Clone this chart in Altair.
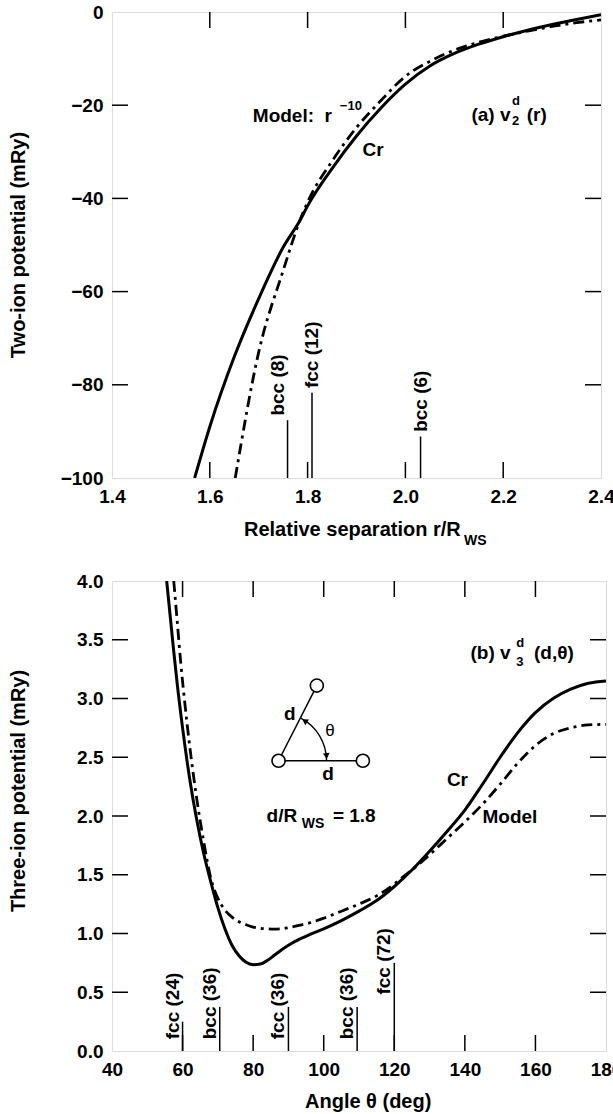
import altair as alt
import pandas as pd

FONT = "Liberation Sans"
LBL = 19
SUB = 13
TICK = 16

# ---------------- panel (a): two-ion potential ----------------
cr2_r = [1.569, 1.60, 1.65, 1.70, 1.75, 1.784, 1.80, 1.85, 1.90, 1.95, 2.00, 2.05, 2.10, 2.15, 2.20, 2.25, 2.30, 2.35, 2.40]
cr2_v = [-100, -89, -74, -61.5, -50.5, -44.8, -41.6, -33.6, -26.6, -20.6, -15.5, -11.6, -8.9, -6.9, -5.3, -3.9, -2.7, -1.6, -0.6]
model2_r = [1.652, 1.70, 1.75, 1.784, 1.80, 1.85, 1.90, 1.95, 2.00, 2.05, 2.10, 2.15, 2.20, 2.25, 2.30, 2.35, 2.40]
model2_v = [-100, -73, -55.5, -44.8, -40.8, -32.0, -24.8, -19.0, -13.8, -10.6, -8.2, -6.5, -5.2, -4.1, -3.1, -2.3, -1.7]
sites2_r = [1.759, 1.809, 2.031]
sites2_h = [12.4, 18.3, 8.9]
sites2_lbl = ["bcc (8)", "fcc (12)", "bcc (6)"]
xa_ticks = [1.4, 1.6, 1.8, 2.0, 2.2, 2.4]
ya_ticks = [-100, -80, -60, -40, -20, 0]

# ---------------- panel (b): three-ion potential ----------------
cr3_t = [55.5, 56.5, 57.5, 58.5, 60, 62, 64, 66, 68, 70, 72, 74, 76, 78, 80, 82, 84, 86, 88, 90, 93, 96,
         100, 105, 110, 115, 120, 125, 130, 135, 140, 145, 150, 155, 160, 165, 170, 175, 180]
cr3_v = [4.0, 3.7, 3.4, 3.12, 2.75, 2.32, 1.97, 1.68, 1.44, 1.22, 1.04, 0.90, 0.81, 0.755, 0.735, 0.74, 0.77, 0.815, 0.86, 0.90, 0.95, 0.99,
         1.04, 1.11, 1.19, 1.28, 1.40, 1.54, 1.70, 1.87, 2.05, 2.27, 2.50, 2.71, 2.88, 3.00, 3.08, 3.13, 3.15]
model3_t = [57.5, 58.5, 59.5, 60.5, 62, 64, 66, 68, 70, 72, 74, 76, 78, 80, 82, 84, 86, 88, 90, 93, 96,
            100, 105, 110, 115, 120, 122, 125, 130, 135, 140, 145, 150, 155, 160, 165, 170, 175, 180]
model3_v = [4.0, 3.65, 3.3, 3.0, 2.6, 2.15, 1.78, 1.47, 1.30, 1.20, 1.14, 1.10, 1.075, 1.055, 1.045, 1.04, 1.037, 1.04, 1.05, 1.07, 1.09,
            1.13, 1.19, 1.25, 1.32, 1.42, 1.47, 1.54, 1.67, 1.81, 1.95, 2.10, 2.27, 2.45, 2.60, 2.70, 2.75, 2.775, 2.78]
sites3_t = [60.0, 70.53, 90.0, 109.47, 120.0]
sites3_h = [0.25, 0.375, 0.375, 0.375, 0.75]
sites3_lbl = ["fcc (24)", "bcc (36)", "fcc (36)", "bcc (36)", "fcc (72)"]
sites3_lbl_start = [0.10, 0.10, 0.10, 0.10, 0.48]
xb_ticks = [40, 60, 80, 100, 120, 140, 160, 180]
yb_ticks = [0.0, 0.5, 1.0, 1.5, 2.0, 2.5, 3.0, 3.5, 4.0]

# inset triangle of panel (b): three ions, angle arc and arrow heads
ion_t = [87.2, 111.1, 98.05]
ion_v = [2.47, 2.47, 3.11]
arrow_t = [94.6, 100.8]
arrow_v = [2.81, 2.51]
arrow_ang = [303, 174]

W_A, H_A = 489, 466
W_B, H_B = 494, 470


def ax(orient, values, fmt):
    return alt.Axis(orient=orient, values=values, format=fmt, title=None, grid=False, domain=False,
                    ticks=False, labelPadding=9, labelFlush=False, labelOverlap=False,
                    labelFont=FONT, labelFontSize=LBL, labelFontWeight="bold", labelColor="black")


def inner_ticks(xt, yt, xs, ys, W, H):
    """Inward tick marks on all four sides, drawn from the tick value lists."""
    dx = pd.DataFrame({"v": xt[1:-1]})
    dy = pd.DataFrame({"v": yt[1:-1]})
    base_x = alt.Chart(dx).mark_rule(color="black", strokeWidth=1.5)
    base_y = alt.Chart(dy).mark_rule(color="black", strokeWidth=1.5)
    X = alt.X("v:Q", scale=xs, axis=None)
    Y = alt.Y("v:Q", scale=ys, axis=None)
    return [
        base_x.encode(x=X, y=alt.value(H), y2=alt.value(H - TICK)),
        base_x.encode(x=X, y=alt.value(0), y2=alt.value(TICK)),
        base_y.encode(y=Y, x=alt.value(0), x2=alt.value(TICK)),
        base_y.encode(y=Y, x=alt.value(W - TICK), x2=alt.value(W)),
    ]


def text_data(rows, xs, ys, size=LBL, weight="bold", align="left", baseline="middle", angle=0):
    df = pd.DataFrame(rows, columns=["t", "x", "y"])
    return alt.Chart(df).mark_text(font=FONT, fontSize=size, fontWeight=weight, align=align,
                                   baseline=baseline, angle=angle, color="black").encode(
        x=alt.X("x:Q", scale=xs, axis=None), y=alt.Y("y:Q", scale=ys, axis=None), text="t:N")


def text_px(s, px, py, size=20, align="left", angle=0):
    return alt.Chart(pd.DataFrame({"t": [s]})).mark_text(
        font=FONT, fontSize=size, fontWeight="bold", align=align, baseline="middle",
        angle=angle, color="black").encode(x=alt.value(px), y=alt.value(py), text="t:N")


# ---------------- build panel (a) ----------------
xa = alt.Scale(domain=[1.4, 2.4], nice=False, zero=False)
ya = alt.Scale(domain=[-100, 0], nice=False, zero=False)

cr2 = pd.DataFrame({"r": cr2_r, "v": cr2_v})
md2 = pd.DataFrame({"r": model2_r, "v": model2_v})
st2 = pd.DataFrame({"r": sites2_r, "base": [-100] * 3,
                    "top": [-100 + h for h in sites2_h], "lbl": sites2_lbl})
st2["ly"] = st2["top"] + 1.0

a_cr = alt.Chart(cr2).mark_line(color="black", strokeWidth=3, clip=True, interpolate="monotone").encode(
    x=alt.X("r:Q", scale=xa, axis=ax("bottom", xa_ticks, ".1f")),
    y=alt.Y("v:Q", scale=ya, axis=ax("left", ya_ticks, "d")))
a_md = alt.Chart(md2).mark_line(color="black", strokeWidth=2.8, strokeDash=[11, 5, 3, 5], clip=True,
                                interpolate="monotone").encode(
    x=alt.X("r:Q", scale=xa, axis=None), y=alt.Y("v:Q", scale=ya, axis=None))
a_rule = alt.Chart(st2).mark_rule(color="black", strokeWidth=1.5).encode(
    x=alt.X("r:Q", scale=xa, axis=None), y=alt.Y("base:Q", scale=ya, axis=None), y2="top:Q")
a_lbl1 = alt.Chart(st2.iloc[[0]]).mark_text(font=FONT, fontSize=LBL, fontWeight="bold", angle=270,
                                             align="left", baseline="bottom", color="black").encode(
    x=alt.X("r:Q", scale=xa, axis=None), y=alt.Y("ly:Q", scale=ya, axis=None), text="lbl:N")
a_lbl2 = alt.Chart(st2.iloc[[1, 2]]).mark_text(font=FONT, fontSize=LBL, fontWeight="bold", angle=270,
                                                align="left", baseline="middle", color="black").encode(
    x=alt.X("r:Q", scale=xa, axis=None), y=alt.Y("ly:Q", scale=ya, axis=None), text="lbl:N")
a_txt = text_data([("Model:\u00a0\u00a0r", 1.688, -22.3), ("(a) v", 2.135, -22.2), ("(r)", 2.248, -22.2)], xa, ya)
a_sub = text_data([("\u221210", 1.866, -20.2), ("d", 2.218, -19.0), ("2", 2.218, -23.4)], xa, ya, size=SUB)
a_cr_lbl = text_data([("Cr", 1.934, -29.6)], xa, ya, align="center")
a_ytitle = text_px("Two-ion potential (mRy)", -93, H_A / 2, angle=270, align="center")
a_xtitle = text_px("Relative separation r/R", 132, H_A + 52)
a_xsub = text_px("WS", 352, H_A + 63, size=14)

panel_a = alt.layer(a_cr, a_md, a_rule, *inner_ticks(xa_ticks, ya_ticks, xa, ya, W_A, H_A),
                    a_lbl1, a_lbl2, a_txt, a_sub, a_cr_lbl,
                    a_ytitle, a_xtitle, a_xsub).resolve_axis(
    x="independent", y="independent").properties(width=W_A, height=H_A)

# ---------------- build panel (b) ----------------
xb = alt.Scale(domain=[40, 180], nice=False, zero=False)
yb = alt.Scale(domain=[0, 4], nice=False, zero=False)

cr3 = pd.DataFrame({"t": cr3_t, "v": cr3_v})
md3 = pd.DataFrame({"t": model3_t, "v": model3_v})
st3 = pd.DataFrame({"t": sites3_t, "base": [0.0] * 5, "top": sites3_h, "lbl": sites3_lbl,
                    "ly": sites3_lbl_start})

b_cr = alt.Chart(cr3).mark_line(color="black", strokeWidth=3, clip=True, interpolate="monotone").encode(
    x=alt.X("t:Q", scale=xb, axis=ax("bottom", xb_ticks, "d")),
    y=alt.Y("v:Q", scale=yb, axis=ax("left", yb_ticks, ".1f")))
b_md = alt.Chart(md3).mark_line(color="black", strokeWidth=2.8, strokeDash=[11, 5, 3, 5], clip=True,
                                interpolate="monotone").encode(
    x=alt.X("t:Q", scale=xb, axis=None), y=alt.Y("v:Q", scale=yb, axis=None))
b_rule = alt.Chart(st3).mark_rule(color="black", strokeWidth=1.5).encode(
    x=alt.X("t:Q", scale=xb, axis=None), y=alt.Y("base:Q", scale=yb, axis=None), y2="top:Q")
b_lbl = alt.Chart(st3).mark_text(font=FONT, fontSize=LBL, fontWeight="bold", angle=270,
                                 align="left", baseline="bottom", color="black").encode(
    x=alt.X("t:Q", scale=xb, axis=None), y=alt.Y("ly:Q", scale=yb, axis=None), text="lbl:N")

ions = pd.DataFrame({"t": ion_t, "v": ion_v})
bonds = pd.DataFrame({"t": [ion_t[0], ion_t[0]], "v": [ion_v[0], ion_v[0]],
                      "t2": [ion_t[2], ion_t[1]], "v2": [ion_v[2], ion_v[1]]})
b_bonds = alt.Chart(bonds).mark_rule(color="black", strokeWidth=1.5).encode(
    x=alt.X("t:Q", scale=xb, axis=None), y=alt.Y("v:Q", scale=yb, axis=None), x2="t2:Q", y2="v2:Q")
b_ions = alt.Chart(ions).mark_point(shape="circle", size=170, filled=True, fill="white",
                                     stroke="black", strokeWidth=1.6, opacity=1).encode(
    x=alt.X("t:Q", scale=xb, axis=None), y=alt.Y("v:Q", scale=yb, axis=None))
b_arc = alt.Chart(ions.iloc[[0]]).mark_arc(radius=48.7, radius2=47.3, theta=0.47, theta2=1.5708,
                                           color="black").encode(
    x=alt.X("t:Q", scale=xb, axis=None), y=alt.Y("v:Q", scale=yb, axis=None))
arrows = pd.DataFrame({"t": arrow_t, "v": arrow_v, "a": arrow_ang})
b_arrows = alt.Chart(arrows).mark_point(shape="triangle-up", size=45, filled=True, color="black",
                                         opacity=1).encode(
    x=alt.X("t:Q", scale=xb, axis=None), y=alt.Y("v:Q", scale=yb, axis=None),
    angle=alt.Angle("a:Q", scale=None))

b_txt = text_data([("(b) v", 141.6, 3.39), ("(d,\u03b8)", 159.6, 3.39), ("Model", 145.0, 1.99),
                   ("d/R", 83.8, 2.0), ("= 1.8", 102.6, 2.0)], xb, yb)
b_sub = text_data([("d", 154.6, 3.47), ("3", 154.6, 3.31)], xb, yb, size=SUB)
b_ws = text_data([("WS", 93.8, 1.93)], xb, yb, size=14)
b_ctr = text_data([("Cr", 137.9, 2.31), ("d", 90.4, 2.87), ("d", 101.2, 2.36)], xb, yb, align="center")
b_theta = text_data([("\u03b8", 101.8, 2.72)], xb, yb, size=17, weight="normal", align="center")
b_ytitle = text_px("Three-ion potential (mRy)", -93, 210, angle=270, align="center")
b_xtitle = text_px("Angle  \u03b8 (deg)", 193, H_B + 51)

panel_b = alt.layer(b_cr, b_md, b_rule, *inner_ticks(xb_ticks, yb_ticks, xb, yb, W_B, H_B),
                    b_lbl, b_bonds, b_arc, b_arrows, b_ions,
                    b_txt, b_sub, b_ws, b_ctr, b_theta, b_ytitle, b_xtitle).resolve_axis(
    x="independent", y="independent").properties(width=W_B, height=H_B)

chart = alt.vconcat(panel_a, panel_b, spacing=22).properties(
    padding={"left": 8, "top": 2, "right": -10, "bottom": 0}
).configure_view(stroke="black", strokeWidth=2).configure(background="white")

chart.save("out.html", embed_options={"renderer": "svg", "actions": False})
